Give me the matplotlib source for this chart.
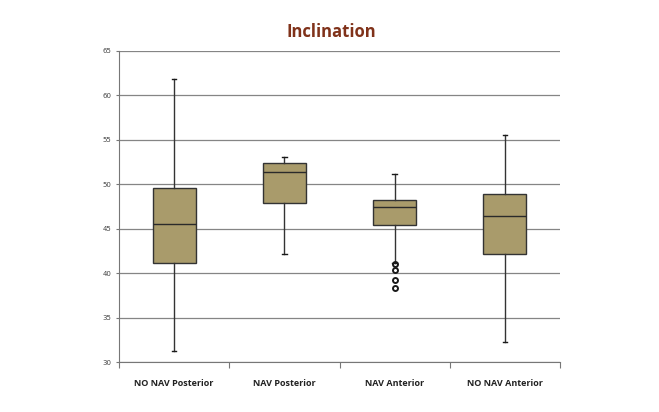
import matplotlib
matplotlib.use("Agg")
import matplotlib.pyplot as plt

# box statistics
groups = ["NO NAV Posterior", "NAV Posterior", "NAV Anterior", "NO NAV Anterior"]
whisker_low = [31.3, 42.2, 41.2, 32.3]
q1 = [41.1, 47.9, 45.4, 42.2]
median = [45.5, 51.4, 47.4, 46.4]
q3 = [49.6, 52.4, 48.2, 48.9]
whisker_high = [61.8, 53.0, 51.2, 55.5]
outliers = [[], [], [41.0, 40.4, 39.2, 38.4], []]

stats = []
for i in range(len(groups)):
    stats.append({"label": groups[i], "whislo": whisker_low[i], "q1": q1[i],
                  "med": median[i], "q3": q3[i], "whishi": whisker_high[i],
                  "fliers": outliers[i]})

fig = plt.figure(figsize=(6.59, 4.12), dpi=100)
ax = fig.add_axes([0.1806, 0.1206, 0.6692, 0.7566])

ax.bxp(stats, positions=range(1, 5), widths=0.39, patch_artist=True,
       boxprops=dict(facecolor="#a99b6b", edgecolor="#333333", linewidth=1.0),
       medianprops=dict(color="#2a2a2a", linewidth=1.0),
       whiskerprops=dict(color="#333333", linewidth=1.0),
       capprops=dict(color="#1a1a1a", linewidth=1.0),
       capwidths=0.04,
       flierprops=dict(marker="o", markersize=3.6, markerfacecolor="none",
                       markeredgecolor="#1a1a1a", markeredgewidth=1.4))

ax.set_xlim(0.5, 4.5)
ax.set_ylim(30, 65)
ax.set_yticks(range(30, 66, 5))
ax.yaxis.grid(True, color="#858585", linewidth=0.9)
ax.set_axisbelow(True)

# category boundary ticks, labels centred on the boxes
ax.set_xticks([0.5, 1.5, 2.5, 3.5, 4.5], minor=False)
ax.set_xticklabels([])
ax.set_xticks(range(1, 5), minor=True)
ax.set_xticklabels(groups, minor=True, fontsize=6.5, fontweight="bold",
                   color="#222222", family="Open Sans")
ax.tick_params(axis="x", which="minor", length=0, pad=12)
ax.tick_params(axis="x", which="major", length=4, color="#777777", direction="out")
ax.tick_params(axis="y", labelsize=5, labelcolor="#444444", length=2,
               color="#777777")

for side in ["top", "right"]:
    ax.spines[side].set_visible(False)
ax.spines["left"].set_color("#777777")
ax.spines["bottom"].set_color("#777777")

fig.text(0.503, 0.922, "Inclination", ha="center", va="center", fontsize=12,
         fontweight="bold", color="#80321a", family="Open Sans")

fig.savefig("out.png", dpi=100)
